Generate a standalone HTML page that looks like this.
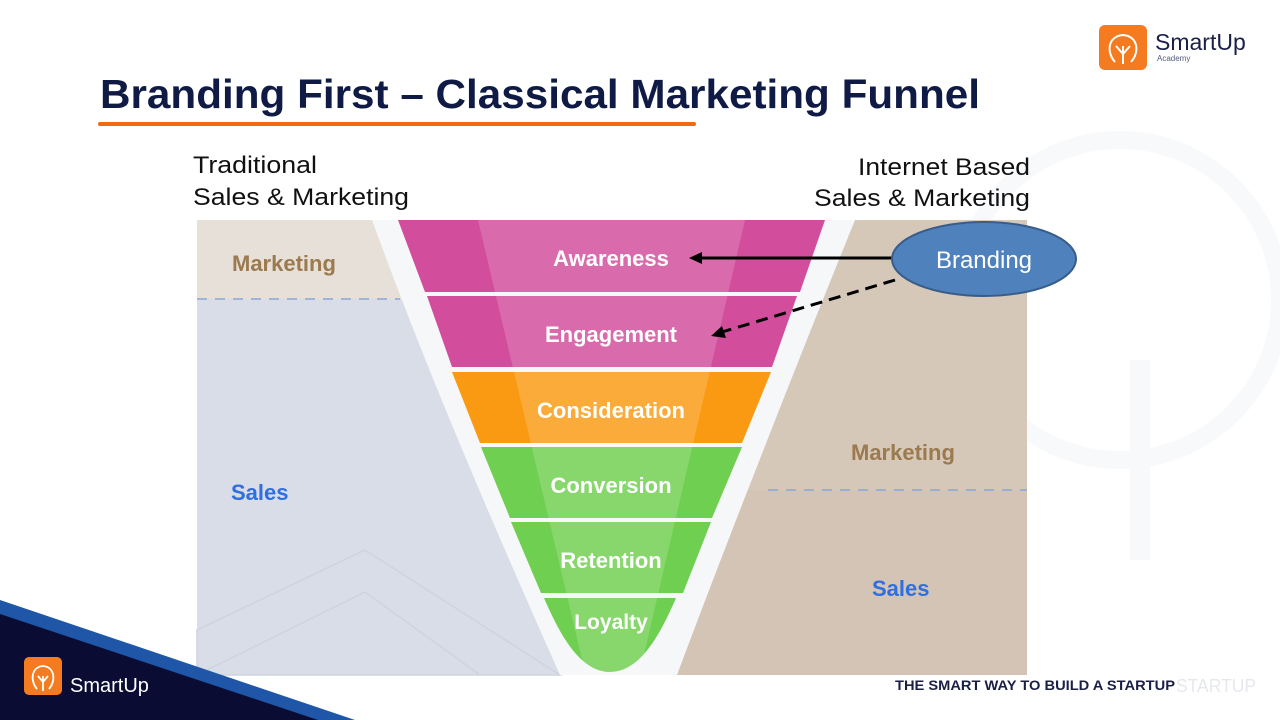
<!DOCTYPE html>
<html><head><meta charset="utf-8"><style>
html,body{margin:0;padding:0;width:1280px;height:720px;overflow:hidden;background:#fff;font-family:"Liberation Sans",sans-serif}
svg text{font-family:"Liberation Sans",sans-serif}
</style></head><body>
<svg width="1280" height="720" viewBox="0 0 1280 720" xmlns="http://www.w3.org/2000/svg" style="position:absolute;left:0;top:0" font-family="Liberation Sans, sans-serif">
<!-- watermark -->
<circle cx="1120" cy="300" r="160" fill="none" stroke="#f8f9fb" stroke-width="18"/>
<path d="M1140 560 L1140 360" fill="none" stroke="#f8f9fb" stroke-width="20"/>

<!-- title -->
<text x="100" y="108" font-weight="bold" font-size="41" fill="#0f1a45" textLength="880" lengthAdjust="spacingAndGlyphs">Branding First – Classical Marketing Funnel</text>
<rect x="98" y="122" width="598" height="4" rx="2" fill="#f26a10"/>

<!-- top right logo -->
<rect x="1099" y="25" width="48" height="45" rx="6" fill="#f47b20"/>
<g fill="none" stroke="#fff" stroke-width="2">
<path d="M1115 62 C1106 52 1108 36 1123 35 C1138 36 1140 52 1131 62"/>
<path d="M1123 64 L1123 46 M1123 54 L1116 46 M1123 54 L1130 46"/>
</g>
<text x="1155" y="50" font-size="23" fill="#1a1f4a">SmartUp</text>
<text x="1157" y="61" font-size="8" fill="#555a7a">Academy</text>

<!-- headings -->
<text font-size="24" fill="#111"><tspan x="193" y="173" textLength="124" lengthAdjust="spacingAndGlyphs">Traditional</tspan><tspan x="193" y="205" textLength="216" lengthAdjust="spacingAndGlyphs">Sales &amp; Marketing</tspan></text>
<text font-size="24" fill="#111"><tspan x="858" y="175" textLength="172" lengthAdjust="spacingAndGlyphs">Internet Based</tspan><tspan x="814" y="206" textLength="216" lengthAdjust="spacingAndGlyphs">Sales &amp; Marketing</tspan></text>

<!-- panels -->
<rect x="197" y="220" width="830" height="455" fill="#d9dde8"/>
<rect x="197" y="220" width="220" height="79" fill="#e6e0d9"/>
<polygon points="197,630 365,550 560,675 197,675" fill="none" stroke="#cfd3de" stroke-width="1.5"/>
<path d="M197 675 L365 592 L480 675" fill="none" stroke="#cfd3de" stroke-width="1.5"/>
<line x1="197" y1="299" x2="400" y2="299" stroke="#8aa6d6" stroke-width="1.5" stroke-dasharray="10,8"/>
<!-- right tan -->
<path d="M855 220 L1027 220 L1027 675 L677 675 C720 560 790 380 855 220 Z" fill="#d6c8b9"/>
<path d="M740 490 L1027 490 L1027 675 L677 675 Z" fill="#d3c4b5"/>
<line x1="768" y1="490" x2="1027" y2="490" stroke="#8aa6d6" stroke-width="1.5" stroke-dasharray="10,8"/>
<!-- white V -->
<path d="M372 220 L855 220 C790 380 720 560 677 675 L560 675 C500 540 430 380 372 220 Z" fill="#f6f7f9"/>

<!-- bands -->
<polygon points="398,220 825,220 800,292 425,292" fill="#d24e9c"/>
<polygon points="427,296 797,296 772,367 452,367" fill="#d24e9c"/>
<polygon points="452,372 771,372 742,443 480,443" fill="#f99a12"/>
<polygon points="481,447 742,447 712,518 510,518" fill="#6fcf50"/>
<polygon points="511,522 711,522 683,593 541,593" fill="#6fcf50"/>
<path d="M544 598 L676 598 C660 635 640 672 610 672 C580 672 560 635 544 598 Z" fill="#6fcf50"/>
<path d="M478 220 L745 220 L640 672 L585 672 Z" fill="#fff" opacity="0.17"/>

<!-- band labels -->
<g font-size="22" font-weight="bold" fill="#fff" text-anchor="middle">
<text x="611" y="266">Awareness</text>
<text x="611" y="342">Engagement</text>
<text x="611" y="418">Consideration</text>
<text x="611" y="493">Conversion</text>
<text x="611" y="568">Retention</text>
<text x="611" y="629" font-size="21">Loyalty</text>
</g>
<g font-size="22" font-weight="bold">
<text x="232" y="271" fill="#9a7a4e">Marketing</text>
<text x="231" y="500" fill="#2f6fe0">Sales</text>
<text x="851" y="460" fill="#9a7a4e">Marketing</text>
<text x="872" y="596" fill="#2f6fe0">Sales</text>
</g>

<!-- arrows -->
<line x1="893" y1="258" x2="700" y2="258" stroke="#000" stroke-width="3"/>
<polygon points="689,258 702,252 702,264" fill="#000"/>
<line x1="895" y1="280" x2="722" y2="332" stroke="#000" stroke-width="3" stroke-dasharray="12,7"/>
<polygon points="711,336 722,326 726,338" fill="#000"/>

<ellipse cx="984" cy="259" rx="92" ry="37" fill="#4f81bd" stroke="#385d8a" stroke-width="2"/>
<text x="984" y="268" font-size="24" fill="#fff" text-anchor="middle">Branding</text>

<!-- footer corner -->
<polygon points="0,600 355,720 0,720" fill="#1f56a8"/>
<polygon points="0,614 318,720 0,720" fill="#0b0c33"/>
<rect x="24" y="657" width="38" height="38" rx="5" fill="#f47b20"/>
<g fill="none" stroke="#fff" stroke-width="1.8">
<path d="M37 689 C30 681 31 667 43 666 C55 667 56 681 49 689"/>
<path d="M43 691 L43 676 M43 682 L38 676 M43 682 L48 676"/>
</g>
<text x="70" y="692" font-size="20" fill="#fff">SmartUp</text>

<text x="895" y="690" font-size="14" font-weight="bold" fill="#1a1f45" textLength="280" lengthAdjust="spacingAndGlyphs">THE SMART WAY TO BUILD A STARTUP</text>
<text x="1176" y="692" font-size="18" fill="#e6e8ee" textLength="80" lengthAdjust="spacingAndGlyphs">STARTUP</text>
</svg>
</body></html>
